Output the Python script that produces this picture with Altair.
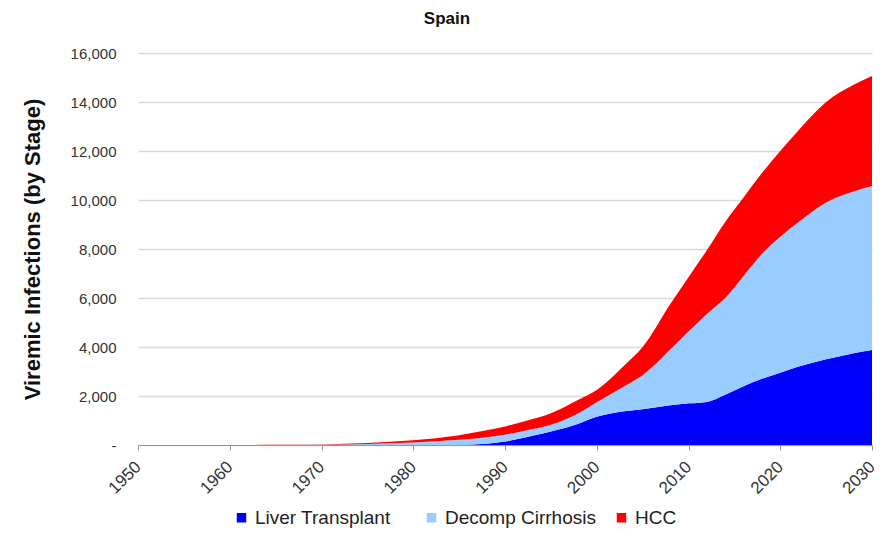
import altair as alt
import pandas as pd

years = [1950, 1955, 1960, 1965, 1970, 1975, 1980, 1985, 1988, 1990, 1993, 1995, 1998,
         2000, 2003, 2005, 2008, 2010, 2012, 2014, 2016, 2018, 2020, 2022, 2025, 2028, 2030]
liver_transplant = [0, 0, 0, 0, 0, 0, 0, 5, 50, 140, 380, 550, 870,
                    1150, 1380, 1460, 1620, 1700, 1760, 2050, 2400, 2700, 2950, 3200, 3500, 3750, 3880]
decomp_cirrhosis = [0, 0, 1, 4, 12, 40, 100, 205, 270, 280, 270, 280, 430,
                    600, 1020, 1390, 2280, 2930, 3590, 3950, 4500, 5100, 5550, 5900, 6400, 6600, 6690]
hcc = [0, 0, 1, 4, 13, 40, 90, 190, 280, 340, 410, 470, 550,
       500, 850, 1150, 1850, 2220, 2600, 3100, 3200, 3300, 3500, 3750, 4100, 4350, 4490]

series = ["Liver Transplant", "Decomp Cirrhosis", "HCC"]
colors = ["#0000FF", "#99CCFF", "#FF0000"]

rows = []
for i, y in enumerate(years):
    for k, (name, vals) in enumerate(zip(series, [liver_transplant, decomp_cirrhosis, hcc])):
        rows.append({"Year": y, "Stage": name, "Value": vals[i], "ord": k})
df = pd.DataFrame(rows)

FONT = "Liberation Sans"

chart = alt.Chart(df).mark_area(interpolate="monotone").encode(
    x=alt.X("Year:Q",
            scale=alt.Scale(domain=[1950, 2030], nice=False, zero=False),
            axis=alt.Axis(values=list(range(1950, 2031, 10)), format="d", labelAngle=315,
                          labelAlign="right", labelBaseline="middle", labelPadding=14,
                          labelFlush=False,
                          labelFontSize=17, labelColor="#333333", labelFont=FONT,
                          grid=False, domainColor="#999999", tickColor="#999999",
                          tickSize=5, title=None)),
    y=alt.Y("Value:Q", stack="zero",
            scale=alt.Scale(domain=[0, 16000], nice=False),
            axis=alt.Axis(values=list(range(0, 16001, 2000)),
                          labelExpr="datum.value == 0 ? '-' : format(datum.value, ',')",
                          labelFontSize=15, labelColor="#333333", labelFont=FONT,
                          labelPadding=22, ticks=False, domain=False,
                          gridColor="#d9d9d9", gridWidth=1.5,
                          title="Viremic Infections (by Stage)", titleFont=FONT,
                          titleFontSize=22, titleFontWeight="bold", titleColor="#111111",
                          titlePadding=26)),
    color=alt.Color("Stage:N", scale=alt.Scale(domain=series, range=colors),
                    legend=alt.Legend(title=None, orient="none", direction="horizontal",
                                      legendX=94, legendY=455, padding=0,
                                      symbolType="square", gridAlign="all",
                                      symbolSize=90, symbolStrokeWidth=0,
                                      labelFontSize=19, labelFont=FONT, labelColor="#222222",
                                      labelLimit=200,
                                      columnPadding=16, symbolOffset=0, labelOffset=4)),
    order=alt.Order("ord:Q", sort="ascending"),
).properties(
    width=734, height=392,
    padding={"left": 130, "top": 45, "right": 8, "bottom": 88},
    autosize=alt.AutoSizeParams(type="none"),
    title=alt.TitleParams("Spain", font=FONT, fontSize=17, fontWeight="bold",
                          color="#111111", offset=18, dx=-58, anchor="middle"),
).configure_view(stroke=None)

chart.save("out.html", embed_options={"renderer": "svg", "actions": False})
